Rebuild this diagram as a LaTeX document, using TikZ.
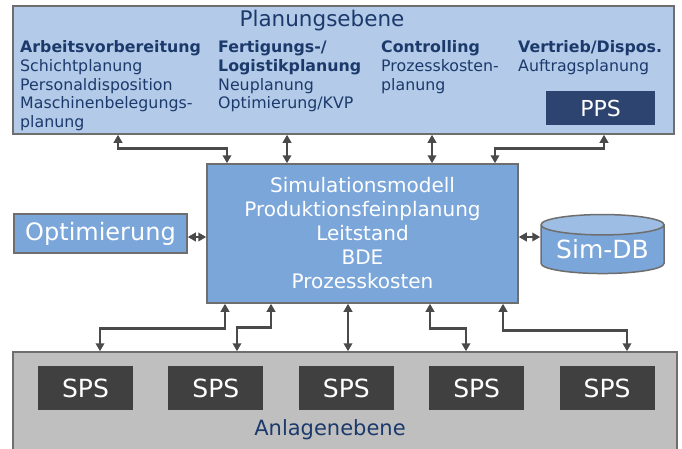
\documentclass[tikz,border=0pt]{standalone}
\usepackage{fontspec}
\setmainfont{DejaVu Sans}
\usepackage{tikz}
\usetikzlibrary{arrows.meta,positioning,calc,shapes.geometric}
\usepackage{xcolor}
\definecolor{planblue}{HTML}{B3CAE8}
\definecolor{simblue}{HTML}{7BA6D9}
\definecolor{simlight}{HTML}{9DBDE4}
\definecolor{plantgray}{HTML}{BFBFBF}
\definecolor{plcgray}{HTML}{404040}
\definecolor{ppsnavy}{HTML}{2E4470}
\definecolor{navytext}{HTML}{1B3A6B}
\definecolor{framegray}{HTML}{6E6E6E}
\definecolor{arrowgray}{HTML}{4A4A4A}

\begin{document}
\begin{tikzpicture}[x=1pt, y=-1pt,
          level/.style={draw=framegray, line width=1.5pt, inner sep=0pt},
          panel/.style={draw=framegray, line width=1.5pt, fill=simblue, text=white, inner sep=0pt},
          plc/.style={fill=plcgray, text=white, minimum width=95pt, minimum height=44pt, inner sep=0pt, font=\fontsize{25}{28}\selectfont},
          col/.style={anchor=north west, inner sep=0pt, align=left, text=navytext, font=\fontsize{15.8}{18.7}\selectfont},
          biarr/.style={{Triangle[length=8pt,width=8.5pt]}-{Triangle[length=8pt,width=8.5pt]}, line width=2.9pt, draw=arrowgray}]
        \useasboundingbox (0,0) rectangle (682,448);
        % Planungsebene
        \node[level, fill=planblue, minimum width=661pt, minimum height=128pt] (plan) at (343.5,70) {};
        \node[text=navytext, font=\fontsize{21.5}{24}\selectfont] (plantitle) at (322,20.5) {Planungsebene};
        \node[col] (av) at (20,40.5) {\textbf{Arbeitsvorbereitung}\\Schichtplanung\\Personaldisposition\\Maschinenbelegungs-\\planung};
        \node[col] (fl) at (218,40.5) {\textbf{Fertigungs-/}\\\textbf{Logistikplanung}\\Neuplanung\\Optimierung/KVP};
        \node[col] (ctl) at (381,40.5) {\textbf{Controlling}\\Prozesskosten-\\planung};
        \node[col] (vd) at (518,40.5) {\textbf{Vertrieb/Dispos.}\\Auftragsplanung};
        \node[fill=ppsnavy, text=white, minimum width=109pt, minimum height=34pt, inner sep=0pt, font=\fontsize{22}{24}\selectfont] (pps) at (600.5,108) {PPS};
        % Simulation
        \node[panel, minimum width=311pt, minimum height=139pt, align=center, font=\fontsize{20}{24}\selectfont] (sim) at (362.5,233.5) {Simulationsmodell\\Produktionsfeinplanung\\Leitstand\\BDE\\Prozesskosten};
        \node[panel, minimum width=173pt, minimum height=39pt, font=\fontsize{24}{26}\selectfont] (opt) at (100.5,233.5) {Optimierung};
        \node[cylinder, shape border rotate=90, aspect=0.22, draw=framegray, line width=1.5pt, cylinder uses custom fill, cylinder body fill=simblue, cylinder end fill=simlight, text=white, minimum width=123pt, minimum height=59pt, inner sep=0pt, font=\fontsize{25}{28}\selectfont] (simdb) at (602.5,249.5) {Sim-DB};
        % Anlagenebene
        \node[level, fill=plantgray, minimum width=664pt, minimum height=110pt] (plant) at (345,407) {};
        \node[plc] (sps1) at (85.5,388) {SPS};
        \node[plc, right=35pt of sps1] (sps2) {SPS};
        \node[plc, right=35pt of sps2] (sps3) {SPS};
        \node[plc, right=35pt of sps3] (sps4) {SPS};
        \node[plc, right=35pt of sps4] (sps5) {SPS};
        \node[text=navytext, font=\fontsize{21}{24}\selectfont] (planttitle) at (330,430) {Anlagenebene};
        % connectors
        \draw[biarr] (plan.south -| 118,0) -- ++(0,14) -| (sim.north -| 227,0);
        \draw[biarr] (plan.south -| 287,0) -- (sim.north -| 287,0);
        \draw[biarr] (plan.south -| 432,0) -- (sim.north -| 432,0);
        \draw[biarr] (plan.south -| 604,0) -- ++(0,14) -| (sim.north -| 495,0);
        \draw[biarr] (opt.east |- 0,237) -- (sim.west |- 0,237);
        \draw[biarr] (sim.east |- 0,237) -- (simdb.west |- 0,237);
        \draw[biarr] (sim.south -| 225,0) -- ++(0,25) -| (plant.north -| 100,0);
        \draw[biarr] (sim.south -| 271,0) -- ++(0,24) -| (plant.north -| 237,0);
        \draw[biarr] (sim.south -| 348,0) -- (plant.north -| 348,0);
        \draw[biarr] (sim.south -| 430,0) -- ++(0,25) -| (plant.north -| 466,0);
        \draw[biarr] (sim.south -| 503,0) -- ++(0,27) -| (plant.north -| 627,0);
      \end{tikzpicture}
\end{document}
